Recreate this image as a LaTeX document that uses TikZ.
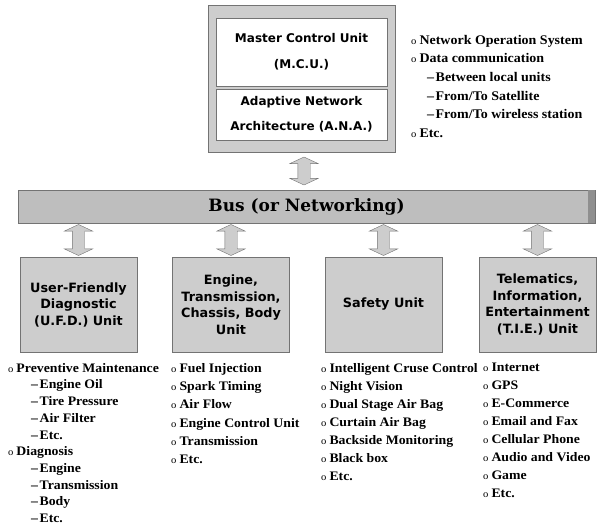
\documentclass[tikz,border=0pt]{standalone}
\usepackage{fontspec}
\setmainfont{Liberation Serif}[FakeStretch=1.06]
\newfontfamily\boxfont{DejaVu Sans}
\newfontfamily\busfont{DejaVu Serif}
\usetikzlibrary{shapes.arrows}
\definecolor{boxgray}{RGB}{205,205,205}
\definecolor{busgray}{RGB}{190,190,190}
\definecolor{framegray}{RGB}{115,115,115}
\newcommand{\itm}{{\mdseries\fontsize{10}{10}\selectfont o}\hspace{3pt}}
\newcommand{\subitm}[1][23pt]{\hspace*{#1}\textendash\hspace{1.5pt}}

\begin{document}
\begin{tikzpicture}[x=1pt, y=-1pt,
  unitbox/.style={draw=framegray, fill=boxgray, minimum width=117pt, minimum height=95pt,
    inner sep=0pt, align=center, font=\boxfont\bfseries\fontsize{12.8}{16.5}\selectfont},
  whitebox/.style={draw=framegray, fill=white, minimum width=171pt, inner sep=0pt,
    align=center, font=\boxfont\bfseries\fontsize{12}{26}\selectfont},
  dblarr/.style={double arrow, draw=framegray, fill=boxgray, rotate=90, inner sep=0pt,
    inner ysep=6pt, minimum width=28pt, double arrow head extend=8pt,
    double arrow tip angle=130},
  lst/.style={anchor=north west, inner sep=0pt, align=left, font=\bfseries\fontsize{13}{18}\selectfont}]
  \useasboundingbox (0,0) rectangle (598,528);
  % Master control unit
  \node[draw=framegray, fill=boxgray, minimum width=187pt, minimum height=147pt] (frame) at (301.5,78.5) {};
  \node[whitebox, minimum height=68pt] (mcu) at (301.5,52) {Master Control Unit\\(M.C.U.)};
  \node[whitebox, minimum height=51pt, font=\boxfont\bfseries\fontsize{12}{25}\selectfont] (ana) at (301.5,114.5) {Adaptive Network\\Architecture (A.N.A.)};
  \node[lst, font=\bfseries\fontsize{13.2}{18.6}\selectfont] (nos) at (411,35) {\itm Network Operation System\\
    \itm Data communication\\
    \subitm[16pt]Between local units\\
    \subitm[16pt]From/To Satellite\\
    \subitm[16pt]From/To wireless station\\
    \itm Etc.};
  % Bus
  \node[draw=framegray, fill=busgray, minimum width=577pt, minimum height=33pt,
    font=\busfont\bfseries\fontsize{17}{20}\selectfont] (bus) at (306.5,206.5) {Bus (or Networking)};
  \fill[framegray!80] (bus.north east) ++(-7,0) rectangle (bus.south east);
  \path (frame.south) -- node[dblarr, minimum height=28pt] (a0) {} (bus.north);
  % Units
  \node[unitbox] (ufd) at (78.5,304.5) {User-Friendly\\Diagnostic\\(U.F.D.) Unit};
  \node[unitbox] (eng) at (231,304.5) {Engine,\\Transmission,\\Chassis, Body\\Unit};
  \node[unitbox] (saf) at (383.5,304.5) {Safety Unit};
  \node[unitbox] (tie) at (537.5,304.5) {Telematics,\\Information,\\Entertainment\\(T.I.E.) Unit};
  \foreach \u/\a in {ufd/a1, eng/a2, saf/a3, tie/a4}
    \path (bus.south -| \u.north) -- node[dblarr, minimum height=31pt] (\a) {} (\u.north);
  % Lists
  \node[lst, font=\bfseries\fontsize{13}{16.7}\selectfont] (l1) at (8,363) {\itm Preventive Maintenance\\
    \subitm Engine Oil\\
    \subitm Tire Pressure\\
    \subitm Air Filter\\
    \subitm Etc.\\
    \itm Diagnosis\\
    \subitm Engine\\
    \subitm Transmission\\
    \subitm Body\\
    \subitm Etc.};
  \node[lst, font=\bfseries\fontsize{13}{18.3}\selectfont] (l2) at (171,363) {\itm Fuel Injection\\
    \itm Spark Timing\\
    \itm Air Flow\\
    \itm Engine Control Unit\\
    \itm Transmission\\
    \itm Etc.};
  \node[lst] (l3) at (321,363) {\itm Intelligent Cruse Control\\
    \itm Night Vision\\
    \itm Dual Stage Air Bag\\
    \itm Curtain Air Bag\\
    \itm Backside Monitoring\\
    \itm Black box\\
    \itm Etc.};
  \node[lst] (l4) at (483,363) {\itm Internet\\
    \itm GPS\\
    \itm E-Commerce\\
    \itm Email and Fax\\
    \itm Cellular Phone\\
    \itm Audio and Video\\
    \itm Game\\
    \itm Etc.};
\end{tikzpicture}
\end{document}
